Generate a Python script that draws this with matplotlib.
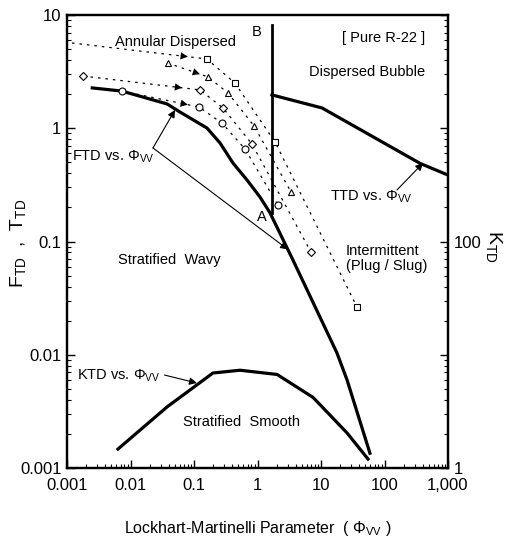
import matplotlib
matplotlib.use("Agg")
import matplotlib.pyplot as plt
import numpy as np
from matplotlib.ticker import FixedLocator, FixedFormatter, LogLocator, NullFormatter

plt.rcParams['font.family'] = 'Liberation Sans'
plt.rcParams['mathtext.fontset'] = 'custom'
plt.rcParams['mathtext.rm'] = 'Liberation Sans'
plt.rcParams['mathtext.it'] = 'Liberation Sans'
plt.rcParams['mathtext.default'] = 'regular'

# transition boundaries
ftd_x = [0.0025, 0.0073, 0.0376, 0.0602, 0.16, 0.257, 0.411, 0.684, 1.094, 1.574,
         3.6, 17.8, 25.7, 59]
ftd_y = [2.27, 2.13, 1.64, 1.39, 1.005, 0.741, 0.493, 0.349, 0.247, 0.179,
         0.069, 0.0104, 0.006, 0.00135]

ttd_x = [1.69, 10.4, 362, 1000]
ttd_y = [1.97, 1.51, 0.49, 0.386]

b_x = [1.69, 1.69]
b_y = [8.2, 0.18]

ktd_x = [0.00635, 0.0376, 0.199, 0.53, 2.03, 7.5, 25.7, 55]
ktd_k = [1.47, 3.46, 6.9, 7.3, 6.7, 4.2, 2.04, 1.2]

# data series (dotted)
sq_x = [0.0012, 0.16, 0.44, 1.89, 36.9]
sq_y = [5.66, 4.09, 2.51, 0.756, 0.0264]
tri_x = [0.0383, 0.166, 0.343, 0.881, 3.37]
tri_y = [3.77, 2.84, 2.05, 1.05, 0.274]
dia_x = [0.00179, 0.124, 0.286, 0.818, 6.96]
dia_y = [2.89, 2.18, 1.51, 0.726, 0.0807]
cir_x = [0.0073, 0.12, 0.276, 0.636, 2.1]
cir_y = [2.13, 1.54, 1.11, 0.656, 0.21]
arrow_x = [0.08, 0.124, 0.065, 0.08]

xticks = [1e-3, 1e-2, 1e-1, 1, 10, 100, 1000]
xticklabels = ['0.001', '0.01', '0.1', '1', '10', '100', '1,000']
yticks = [1e-3, 1e-2, 1e-1, 1, 10]
yticklabels = ['0.001', '0.01', '0.1', '1', '10']
kticks = [1, 10, 100, 1000, 10000]
kticklabels = ['1', '', '100', '', '']

fig = plt.figure(figsize=(5.08, 5.39), dpi=100)
ax = fig.add_axes([67 / 508, 1 - 468 / 539, 381 / 508, 453 / 539])
ax.set_xscale('log')
ax.set_yscale('log')
ax.set_xlim(1e-3, 1e3)
ax.set_ylim(1e-3, 10)

ax.plot(ftd_x, ftd_y, color='k', lw=2.3, zorder=3)
ax.plot(ttd_x, ttd_y, color='k', lw=2.3, zorder=3)
ax.plot(b_x, b_y, color='k', lw=2.0, zorder=3)

dots = (0, (2, 4))
series = [(sq_x, sq_y, 's', 1), (tri_x, tri_y, '^', 0),
          (dia_x, dia_y, 'D', 0), (cir_x, cir_y, 'o', 0)]
for (sx, sy, m, skip), ax_tip in zip(series, arrow_x):
    ax.plot(sx, sy, color='k', lw=0.9, ls=dots, zorder=2)
    ax.plot(sx[skip:], sy[skip:], ls='none', marker=m, ms=5 if m != 'D' else 4,
            mfc='white', mec='k', mew=0.8, zorder=4)
    lx, ly = np.log10(sx[:2]), np.log10(sy[:2])
    tip_y = 10 ** np.interp(np.log10(ax_tip), lx, ly)
    tail_x = ax_tip * (sx[0] / ax_tip) ** 0.15
    tail_y = 10 ** np.interp(np.log10(tail_x), lx, ly)
    ax.annotate('', xy=(ax_tip, tip_y), xytext=(tail_x, tail_y),
                arrowprops=dict(arrowstyle='-|>', color='k', lw=0.01,
                                mutation_scale=13, shrinkA=0, shrinkB=0),
                zorder=5)

# KTD on the right axis
ax2 = ax.twinx()
ax2.set_yscale('log')
ax2.set_ylim(1, 1e4)
ax2.plot(ktd_x, ktd_k, color='k', lw=2.3)

fs = 10.5
ax.text(0.052, 5.78, 'Annular Dispersed', ha='center', va='center', fontsize=fs)
ax.text(0.98, 7.08, 'B', ha='center', va='center', fontsize=fs)
ax.text(95, 6.26, '[ Pure R-22 ]', ha='center', va='center', fontsize=fs)
ax.text(53, 3.14, 'Dispersed Bubble', ha='center', va='center', fontsize=fs)
ax.text(1.18, 0.164, 'A', ha='center', va='center', fontsize=fs)
ax.text(0.0404, 0.0687, 'Stratified  Wavy', ha='center', va='center', fontsize=fs)
ax.text(24.8, 0.071, 'Intermittent\n(Plug / Slug)', ha='left', va='center',
        fontsize=fs, linespacing=1.15)
ax.text(0.57, 0.00255, 'Stratified  Smooth', ha='center', va='center', fontsize=fs)

ax.text(0.0012, 0.557, r'FTD vs. $\Phi_{VV}$', ha='left', va='center', fontsize=fs)
arr = dict(arrowstyle='-|>', color='k', lw=0.8, mutation_scale=11, shrinkA=0, shrinkB=0)
ax.annotate('', xy=(0.0502, 1.45), xytext=(0.0226, 0.67), arrowprops=arr)
ax.annotate('', xy=(3.02, 0.085), xytext=(0.0226, 0.67), arrowprops=arr)
ax.text(13.9, 0.247, r'TTD vs. $\Phi_{VV}$', ha='left', va='center', fontsize=fs)
ax.annotate('', xy=(404, 0.493), xytext=(157, 0.285), arrowprops=arr)
ax.text(0.00144, 0.00649, r'KTD vs. $\Phi_{VV}$', ha='left', va='center', fontsize=fs)
ax.annotate('', xy=(0.111, 0.00563), xytext=(0.0343, 0.00662), arrowprops=arr)

ax.xaxis.set_major_locator(FixedLocator(xticks))
ax.xaxis.set_major_formatter(FixedFormatter(xticklabels))
ax.xaxis.set_minor_locator(LogLocator(base=10, subs=np.arange(2, 10)))
ax.xaxis.set_minor_formatter(NullFormatter())
ax.yaxis.set_major_locator(FixedLocator(yticks))
ax.yaxis.set_major_formatter(FixedFormatter(yticklabels))
ax.yaxis.set_minor_locator(LogLocator(base=10, subs=np.arange(2, 10)))
ax.yaxis.set_minor_formatter(NullFormatter())
ax2.yaxis.set_major_locator(FixedLocator(kticks))
ax2.yaxis.set_major_formatter(FixedFormatter(kticklabels))
ax2.yaxis.set_minor_locator(LogLocator(base=10, subs=np.arange(2, 10)))
ax2.yaxis.set_minor_formatter(NullFormatter())

for a in (ax, ax2):
    a.tick_params(which='major', direction='in', length=6, width=1, labelsize=12, pad=4)
    a.tick_params(which='minor', direction='in', length=3, width=0.8)
    for s in a.spines.values():
        s.set_linewidth(1.6)
ax.tick_params(top=False, right=False, which='both')
ax.tick_params(axis='x', pad=7)

ax.set_xlabel(r'Lockhart-Martinelli Parameter  ( $\Phi_{VV}$ )', fontsize=11.5, labelpad=19)
ax.set_ylabel(r'$F_{TD}$  ,  $T_{TD}$', fontsize=14, va='center')
ax.yaxis.set_label_coords(-0.128, 0.495)
ax2.set_ylabel(r'$K_{TD}$', fontsize=14, rotation=-90, va='center')
ax2.yaxis.set_label_coords(1.12, 0.49)

fig.savefig('out.png', dpi=100)
